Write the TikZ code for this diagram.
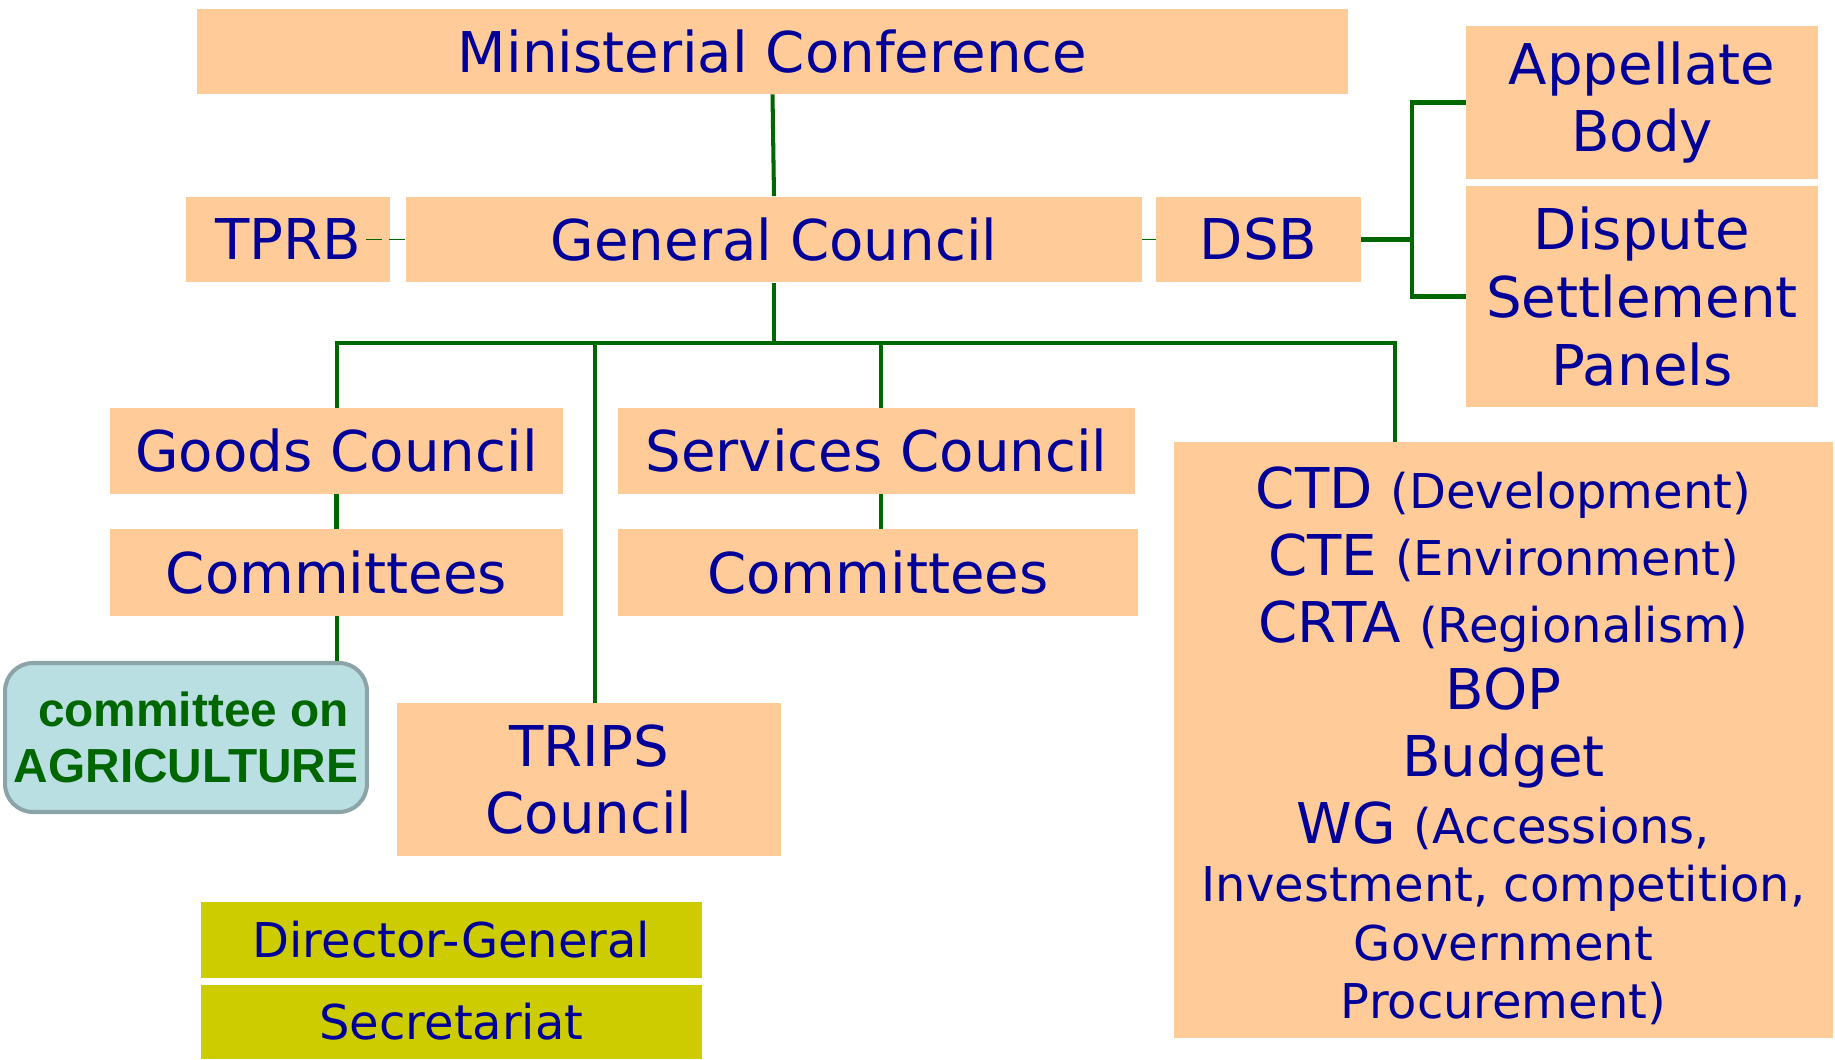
\documentclass[tikz,border=0pt]{standalone}
\usepackage{fontspec}
\setmainfont{DejaVu Sans}
\newfontfamily\agrifont{Liberation Sans}
\usepackage{tikz}
\usepackage{xcolor}

\definecolor{boxfill}{HTML}{FFCC99}
\definecolor{boxtext}{HTML}{000099}
\definecolor{linkgreen}{HTML}{006600}
\definecolor{dgfill}{HTML}{CCCC00}
\definecolor{agrifill}{HTML}{BADFE2}
\definecolor{agriedge}{HTML}{8CA4A7}

\newcommand{\smallpart}[1]{{\fontsize{27.3}{33.3}\selectfont #1}}

\begin{document}
\begin{tikzpicture}[x=0.02cm, y=-0.02cm,
    body/.style={rectangle, fill=boxfill, text=boxtext, inner sep=0pt, align=center, font=\fontsize{32}{38.5}\selectfont},
    staff/.style={body, fill=dgfill, font=\fontsize{27.3}{33}\selectfont},
    agri/.style={rectangle, rounded corners=0.56cm, fill=agrifill, draw=agriedge, line width=2.3pt, text=linkgreen, inner sep=0pt, align=center, font=\agrifont\bfseries\fontsize{27.2}{32}\selectfont},
    link/.style={draw=linkgreen, line width=2.3pt},
    thinlink/.style={draw=linkgreen, line width=1.1pt}]
    \useasboundingbox (0,0) rectangle (1835,1060);

    % top of the tree
    \node[body, minimum width=23.02cm, minimum height=1.7cm] (mc) at (772.5,51.5) {Ministerial Conference};
    \node[body, minimum width=4.08cm, minimum height=1.72cm] (tprb) at (288,239.5) {TPRB};
    \node[body, minimum width=14.72cm, minimum height=1.72cm] (gc) at (774,239.5) {General Council};
    \node[body, minimum width=4.1cm, minimum height=1.72cm] (dsb) at (1258.5,239.5) {DSB};
    \node[body, minimum width=7.04cm, minimum height=3.06cm] (ab) at (1642,102.5) {Appellate\\Body};
    \node[body, minimum width=7.04cm, minimum height=4.42cm] (dsp) at (1642,296.5) {Dispute\\Settlement\\Panels};

    % councils
    \node[body, minimum width=9.06cm, minimum height=1.72cm] (goods) at (336.5,451) {Goods Council};
    \node[body, minimum width=9.06cm, minimum height=1.74cm] (gcom) at (336.5,572.5) {Committees};
    \node[agri, minimum width=7.24cm, minimum height=2.98cm] (agr) at (186,737.5) {\hspace*{0.3cm}committee on\\AGRICULTURE};
    \node[body, minimum width=7.68cm, minimum height=3.06cm] (trips) at (589,779.5) {TRIPS\\Council};
    \node[body, minimum width=10.34cm, minimum height=1.72cm] (sc) at (876.5,451) {Services Council};
    \node[body, minimum width=10.4cm, minimum height=1.74cm] (scom) at (878,572.5) {Committees};
    \node[body, minimum width=13.18cm, minimum height=11.92cm] (other) at (1503.5,740) {};
    \node[body, fill=none, font=\fontsize{32}{33.3}\selectfont] (otherlist) at ([yshift=-0.12cm]other.center)
        {CTD \smallpart{(Development)}\\[4.8pt]
         CTE \smallpart{(Environment)}\\[4.8pt]
         CRTA \smallpart{(Regionalism)}\\[4.8pt]
         BOP\\[4.8pt]
         Budget\\[4.8pt]
         WG \smallpart{(Accessions,}\\
         \smallpart{Investment, competition,}\\
         \smallpart{Government}\\
         \smallpart{Procurement)}};

    % secretariat
    \node[staff, minimum width=10.02cm, minimum height=1.52cm] (dg) at (451.5,940) {Director-General};
    \node[staff, minimum width=10.02cm, minimum height=1.48cm] (sec) at (451.5,1022) {Secretariat};

    \coordinate (busL) at (337,343);
    \coordinate (busR) at (1395,343);
    \coordinate (tripsdrop) at (595,343);
    \coordinate (servdrop) at (881,343);
    \coordinate (dsbfork) at (1412,239.5);

    \draw[link] (mc.south) -- (gc.north);
    \draw[link] (gc.south) -- (gc.south |- busL);
    \draw[link] (busL |- goods.north) -- (busL) -- (busR) -- (busR |- other.north);
    \draw[link] (goods.south) -- (gcom.north);
    \draw[link] (busL |- gcom.south) -- (busL |- agr.north);
    \draw[link] (tripsdrop) -- (tripsdrop |- trips.north);
    \draw[link] (servdrop) -- (servdrop |- sc.north);
    \draw[link] (servdrop |- sc.south) -- (servdrop |- scom.north);

    \draw[thinlink, dash pattern=on 0.32cm off 0.14cm] ([xshift=-0.48cm]tprb.east) -- (gc.west);
    \draw[thinlink] (gc.east) -- (dsb.west);
    \draw[link] (dsb.east) -- (dsbfork);
    \draw[link] (ab.west) -- (ab.west -| dsbfork) -- (dsp.west -| dsbfork) -- (dsp.west);
\end{tikzpicture}
\end{document}
